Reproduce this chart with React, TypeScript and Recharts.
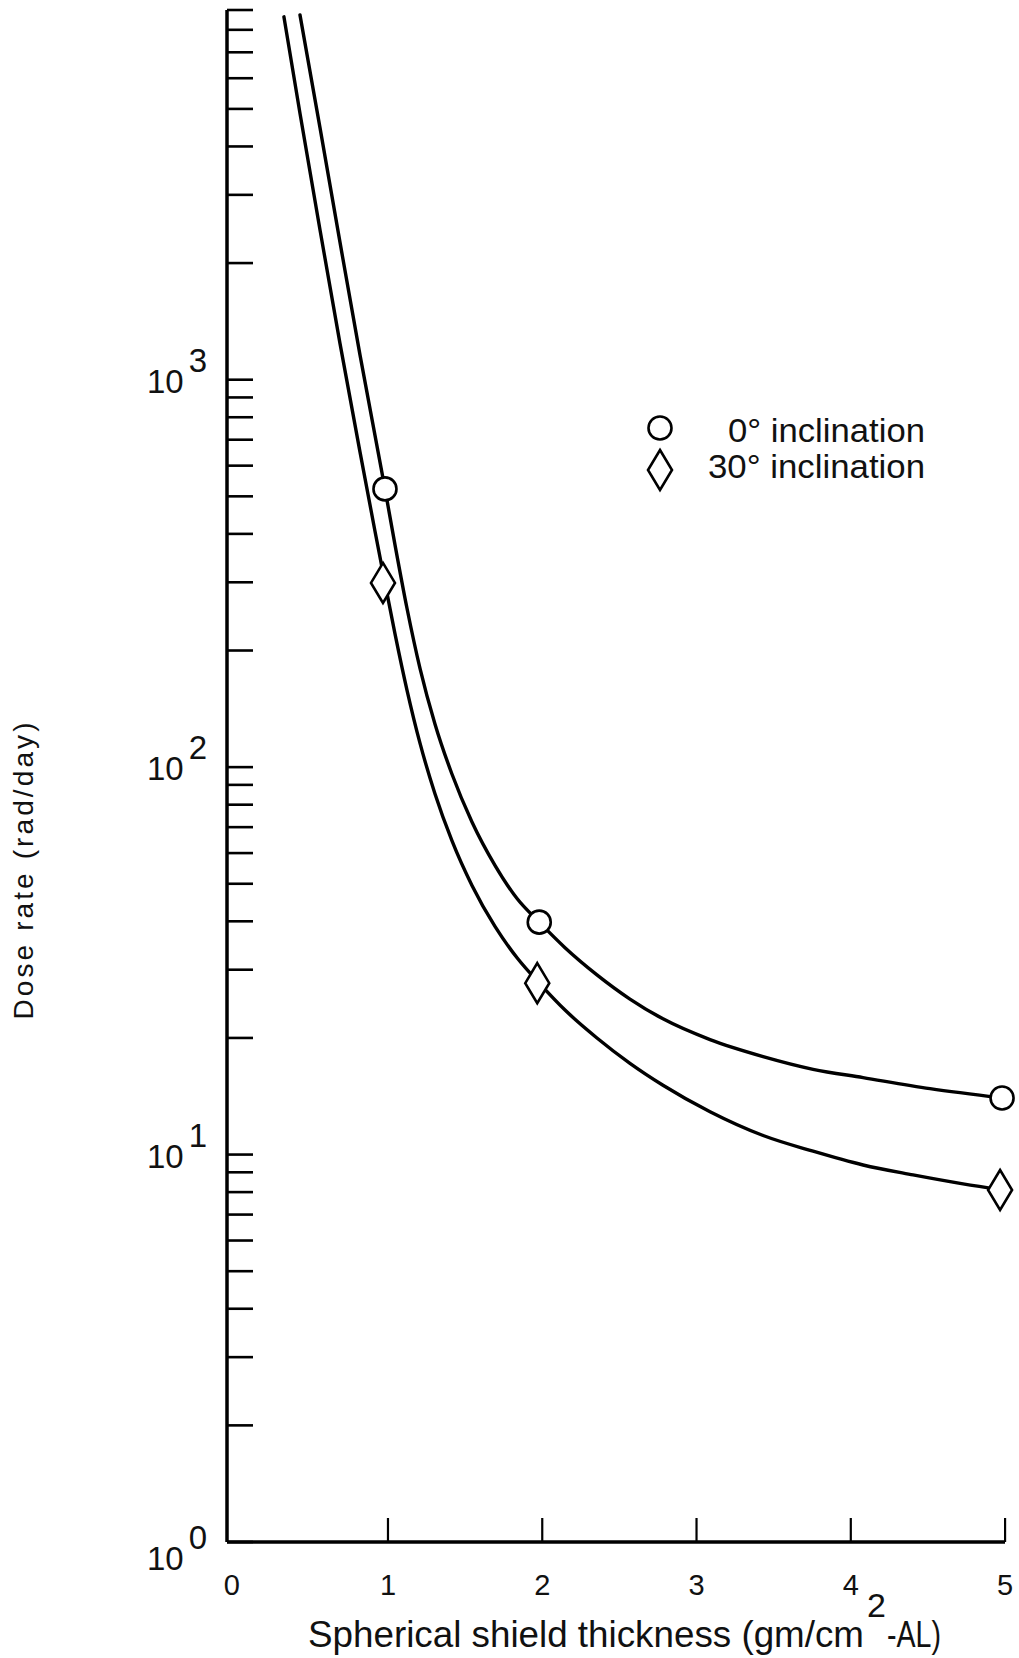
import { ComposedChart, Label, Legend, Line, Scatter, XAxis, YAxis } from "recharts";

// curve samples (x in gm/cm2, dose in rad/day)
const thickness0 = [0.449, 0.579, 0.708, 0.838, 1, 1.065, 1.143, 1.227, 1.324, 1.434, 1.564, 1.713, 1.856, 2, 2.167, 2.374, 2.588, 2.802, 3.107, 3.451, 3.775, 4.099, 4.533, 5];
const dose0 = [8744, 4467, 2268, 1159, 522.6, 374.7, 256.7, 179.9, 129.3, 96.0, 72.2, 55.8, 45.8, 39.8, 34.2, 29.1, 25.2, 22.4, 19.8, 17.9, 16.6, 15.8, 14.8, 14.0];

const thickness30 = [0.345, 0.449, 0.579, 0.708, 0.838, 0.935, 1, 1.065, 1.143, 1.227, 1.324, 1.434, 1.564, 1.713, 1.856, 2, 2.167, 2.374, 2.588, 2.802, 3.107, 3.451, 3.775, 4.099, 4.423, 4.747, 5];
const dose30 = [8642, 4874, 2434, 1243, 651, 407, 298.9, 220.8, 157.9, 115.3, 85.4, 64.6, 49.5, 38.8, 32.2, 27.7, 23.6, 20.0, 17.2, 15.1, 12.9, 11.2, 10.2, 9.4, 8.86, 8.4, 8.1];

// plotted symbols
const measuredX = [1, 2, 5];
const measured0 = [522.6, 39.8, 14.0];
const measured30 = [298.9, 27.7, 8.1];

const seriesNames = ["0\u00b0 inclination", "30\u00b0 inclination"];

const xTicks = [0, 1, 2, 3, 4, 5];
const yTicks = [
  1, 2, 3, 4, 5, 6, 7, 8, 9,
  10, 20, 30, 40, 50, 60, 70, 80, 90,
  100, 200, 300, 400, 500, 600, 700, 800, 900,
  1000, 2000, 3000, 4000, 5000, 6000, 7000, 8000, 9000,
];
const decadeValues = [1, 10, 100, 1000];
const decadeExponents = ["0", "1", "2", "3"];

const FONT = "'Liberation Sans', Arial, sans-serif";
const INK = "#111";

const toPoints = (xs: number[], ys: number[]) => xs.map((x, i) => ({ x, y: ys[i] }));

const curve0 = toPoints(thickness0, dose0);
const curve30 = toPoints(thickness30, dose30);
const points0 = toPoints(measuredX, measured0);
const points30 = toPoints(measuredX, measured30);

function YTick(props: any) {
  const { x, y, payload } = props;
  const i = decadeValues.indexOf(payload.value);
  const low = payload.value === 1;
  return (
    <g>
      <line x1={x} y1={y} x2={x + 26} y2={y} stroke="#000" strokeWidth={2.6} />
      {i >= 0 && (
        <text x={x - 80} y={y + (low ? 28 : 13)} fontSize={33} fontFamily={FONT} fill={INK}>
          10
          <tspan dx={5} dy={-21}>
            {decadeExponents[i]}
          </tspan>
        </text>
      )}
    </g>
  );
}

function XTick(props: any) {
  const { x, y, payload } = props;
  return (
    <g>
      {payload.value !== 0 && <line x1={x + 3} y1={y} x2={x + 3} y2={y - 24} stroke="#000" strokeWidth={2.2} />}
      <text x={x + (payload.value === 0 ? 1 : 3)} y={y + 53} fontSize={29} fontFamily={FONT} fill={INK} textAnchor="middle">
        {payload.value}
      </text>
    </g>
  );
}

const CircleMark = (props: any) => (
  <circle cx={props.cx} cy={props.cy} r={11.5} fill="#fff" stroke="#000" strokeWidth={2.6} />
);

const DiamondMark = (props: any) => {
  const { cx, cy } = props;
  return (
    <polygon
      points={`${cx - 2},${cy - 20} ${cx + 10},${cy} ${cx - 2},${cy + 20} ${cx - 14},${cy}`}
      fill="#fff"
      stroke="#000"
      strokeWidth={2.6}
    />
  );
};

const XTitle = () => (
  <g fontFamily={FONT} fill={INK}>
    <text x={308} y={1647} fontSize={37} textLength={556} lengthAdjust="spacingAndGlyphs">
      Spherical shield thickness (gm/cm
    </text>
    <text x={867} y={1617} fontSize={34}>
      2
    </text>
    <text x={887} y={1647} fontSize={37} textLength={54} lengthAdjust="spacingAndGlyphs">
      -AL)
    </text>
  </g>
);

const YTitle = () => (
  <text
    x={33}
    y={871}
    transform="rotate(-90 33 871)"
    textAnchor="middle"
    fontSize={28}
    fontFamily={FONT}
    fill={INK}
    textLength={297}
    lengthAdjust="spacing"
  >
    Dose rate (rad/day)
  </text>
);

const LegendBox = () => (
  <svg width={320} height={110}>
    <circle cx={30} cy={33} r={11.5} fill="#fff" stroke="#000" strokeWidth={2.6} />
    <polygon points="30,55 42,75 30,95 18,75" fill="#fff" stroke="#000" strokeWidth={2.6} />
    <text x={295} y={47} fontSize={34} fontFamily={FONT} fill={INK} textAnchor="end" textLength={197} lengthAdjust="spacingAndGlyphs">
      {seriesNames[0]}
    </text>
    <text x={295} y={83} fontSize={34} fontFamily={FONT} fill={INK} textAnchor="end" textLength={217} lengthAdjust="spacingAndGlyphs">
      {seriesNames[1]}
    </text>
  </svg>
);

export default function App() {
  return (
    <div style={{ position: "absolute", left: 0, top: 0, background: "#fff" }}>
      <ComposedChart width={1019} height={1658} margin={{ top: 10, right: 14, bottom: 115, left: 226 }}>
        <XAxis
          type="number"
          dataKey="x"
          domain={[-0.024, 5.019]}
          ticks={xTicks}
          interval={0}
          height={1}
          tickSize={0}
          tickMargin={0}
          tickLine={false}
          tick={<XTick />}
          axisLine={{ stroke: "#000", strokeWidth: 3.5 }}
        >
          <Label content={<XTitle />} />
        </XAxis>
        <YAxis
          type="number"
          dataKey="y"
          scale="log"
          domain={[1, 9000]}
          ticks={yTicks}
          interval={0}
          width={1}
          tickSize={0}
          tickMargin={0}
          tickLine={false}
          tick={<YTick />}
          axisLine={{ stroke: "#000", strokeWidth: 3.5 }}
        >
          <Label content={<YTitle />} />
        </YAxis>
        <Legend
          content={<LegendBox />}
          layout="vertical"
          align="center"
          verticalAlign="middle"
          wrapperStyle={{ left: 630, top: 395, width: 320, height: 110 }}
        />
        <Line data={curve0} dataKey="y" name={seriesNames[0]} type="monotone" dot={false} stroke="#000" strokeWidth={3.4} strokeLinecap="round" isAnimationActive={false} />
        <Line data={curve30} dataKey="y" name={seriesNames[1]} type="monotone" dot={false} stroke="#000" strokeWidth={3.4} strokeLinecap="round" isAnimationActive={false} />
        <Scatter data={points0} dataKey="y" name={seriesNames[0]} shape={CircleMark} isAnimationActive={false} />
        <Scatter data={points30} dataKey="y" name={seriesNames[1]} shape={DiamondMark} isAnimationActive={false} />
      </ComposedChart>
    </div>
  );
}
